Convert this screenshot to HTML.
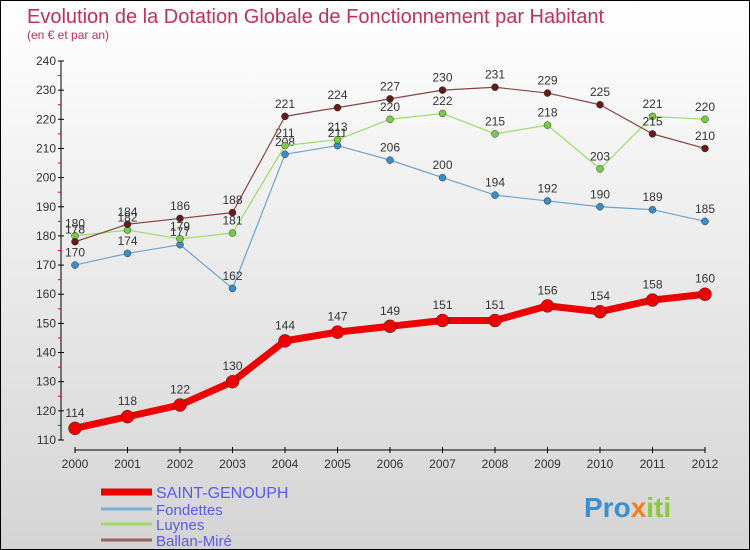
<!DOCTYPE html>
<html><head><meta charset="utf-8">
<style>
html,body{margin:0;padding:0}
body{width:750px;height:550px;overflow:hidden;font-family:"Liberation Sans",sans-serif}
#wrap{position:relative;width:748px;height:548px;border:1px solid #000;background:linear-gradient(#ffffff,#d4d4d4)}
svg{position:absolute;left:0;top:0}
</style></head><body>
<div id="wrap">
<svg id="chart" width="748" height="548">
<text x="26" y="22" font-size="20" fill="#c0305a">Evolution de la Dotation Globale de Fonctionnement par Habitant</text>
<text x="26" y="38" font-size="12" fill="#c0305a">(en € et par an)</text>
<text x="583" y="516" font-size="28" font-weight="bold" fill="#3a8fd0">Pro<tspan fill="#f08020">x</tspan><tspan fill="#8cc63f">iti</tspan></text>
</svg>
</div>
<script>
const years=["2000","2001","2002","2003","2004","2005","2006","2007","2008","2009","2010","2011","2012"];
const yTicks=[110,120,130,140,150,160,170,180,190,200,210,220,230,240];
const saintGenouph=[114,118,122,130,144,147,149,151,151,156,154,158,160];
const fondettes=[170,174,177,162,208,211,206,200,194,192,190,189,185];
const luynes=[180,182,179,181,211,213,220,222,215,218,203,221,220];
const ballanMire=[178,184,186,188,221,224,227,230,231,229,225,215,210];
const seriesNames=["SAINT-GENOUPH","Fondettes","Luynes","Ballan-Miré"];

const NS="http://www.w3.org/2000/svg";
const svg=document.getElementById('chart');
const X=i=>74+i*52.5;
const Y=v=>439-(v-110)*(379/130);
function mk(t,a){const e=document.createElementNS(NS,t);for(const k in a)e.setAttribute(k,a[k]);svg.appendChild(e);return e;}

// axes
let ax=mk('line',{x1:60,y1:60,x2:60,y2:439,stroke:'#000'});


let bx=mk('line',{x1:74,y1:449,x2:704,y2:449,stroke:'#000'});


yTicks.forEach(v=>{
  mk('line',{x1:57,x2:63,y1:Y(v),y2:Y(v),stroke:'#000'});
  if(v<240){let m=mk('line',{x1:57,x2:60,y1:Y(v+5),y2:Y(v+5),stroke:'#e00'});}
  const t=mk('text',{x:55,y:Y(v)+4,'font-size':12,'text-anchor':'end',fill:'#333'});
  t.textContent=v;
  
  
});
years.forEach((y,i)=>{
  mk('line',{x1:X(i),x2:X(i),y1:446,y2:452,stroke:'#000'});
  const t=mk('text',{x:X(i),y:467,'font-size':12,'text-anchor':'middle',fill:'#333'});
  t.textContent=y;
  
  
});

function series(data,color,dot,w,r,name){
  const p=mk('polyline',{points:data.map((v,i)=>X(i)+','+Y(v)).join(' '),fill:'none',stroke:color,'stroke-width':w,'stroke-linejoin':'round'});
  
  
  data.forEach((v,i)=>{
    const c=mk('circle',{cx:X(i),cy:Y(v),r:r,fill:dot,stroke:'#333','stroke-width':0.5});
    
    
    const t=mk('text',{x:X(i),y:Y(v)-(r+5),'font-size':12,'text-anchor':'middle',fill:'#333'});
    t.textContent=v;
    
    
  });
}
series(fondettes,'#6ba3d0','#3a8cc8',1.2,3.5,'fondettes');
series(luynes,'#99dd66','#77cc44',1.2,3.5,'luynes');
series(ballanMire,'#884444','#661a1a',1.2,3.5,'ballan-mire');
series(saintGenouph,'#ee0000','#ee0000',7,6.5,'saint-genouph');

const lc=['#ee0000','#7ab0d8','#99dd66','#9a6060'];
const lw=[7,3,3,3];
seriesNames.forEach((n,i)=>{
  const yy=[491,508,523,539][i];
  const l=mk('line',{x1:100,x2:151,y1:yy,y2:yy,stroke:lc[i],'stroke-width':lw[i]});
  
  
  const t=mk('text',{x:155,y:yy+6,'font-size':i==0?16:15,fill:'#5a5aee'});
  t.textContent=n;
  
  
});
</script>
</body></html>
